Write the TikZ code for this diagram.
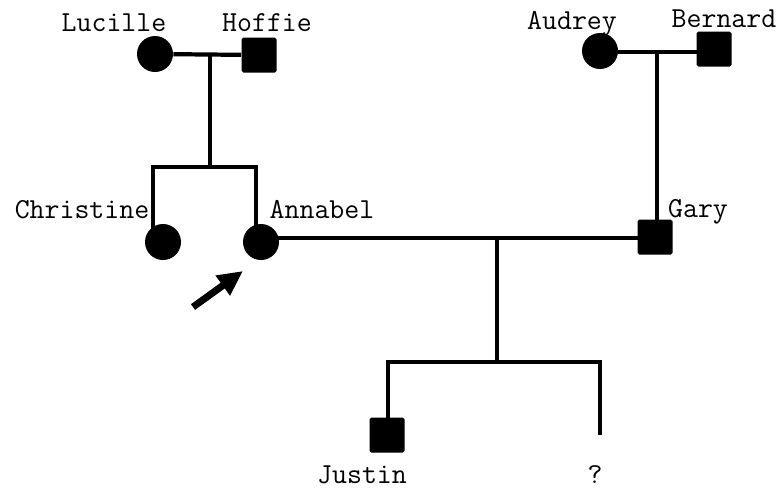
\documentclass[tikz,border=0pt]{standalone}
\usepackage{tikz}
\usetikzlibrary{arrows.meta, positioning, calc}

\begin{document}
\begin{tikzpicture}[
        female/.style={circle, fill=black, minimum size=0.72cm, inner sep=0pt},
        male/.style={rectangle, fill=black, rounded corners=1pt, minimum size=0.70cm, inner sep=0pt},
        person/.style={font=\fontsize{16.5}{18}\selectfont\ttfamily, inner sep=0pt},
        link/.style={line width=2.4pt, black},
        pointer/.style={-{Triangle[length=5mm, width=4.6mm]}, line width=4pt}
    ]
        \useasboundingbox (0,0) rectangle (15.62,-9.86);

        % Grandparents
        \node[female] (lucille) at (3.10,-1.08) {};
        \node[male] (hoffie) at (5.18,-1.10) {};
        \node[female] (audrey) at (12.00,-1.02) {};
        \node[male] (bernard) at (14.28,-0.98) {};
        \node[person] (lucilleName) at (2.28,-0.46) {Lucille};
        \node[person] (hoffieName) at (5.34,-0.46) {Hoffie};
        \node[person] (audreyName) at (11.44,-0.48) {Audrey};
        \node[person] (bernardName) at (14.48,-0.38) {Bernard};

        % Parents
        \node[female] (christine) at (3.26,-4.84) {};
        \node[female] (annabel) at (5.22,-4.84) {};
        \node[male] (gary) at (13.10,-4.74) {};
        \node[person] (christineName) at (1.64,-4.20) {Christine};
        \node[person] (annabelName) at (6.44,-4.20) {Annabel};
        \node[person] (garyName) at (13.96,-4.24) {Gary};

        % Children
        \node[male] (justin) at (7.74,-8.70) {};
        \coordinate (unknown) at (12.00,-8.70);
        \node[person] (justinName) at (7.24,-9.50) {Justin};
        \node[person] (unknownName) at (11.90,-9.50) {?};

        % Lucille x Hoffie
        \coordinate (m1) at (4.20,-1.08);
        \coordinate (sl1) at (3.06,-3.34);
        \coordinate (sr1) at (5.12,-3.34);
        \draw[link] (lucille) -- (hoffie);
        \draw[link] (m1) -- (m1 |- sl1);
        \draw[link] (sl1 |- christine) -- (sl1) -- (sr1) -- (sr1 |- annabel);

        % Audrey x Bernard
        \coordinate (m2) at (13.14,-1.04);
        \draw[link] (audrey.center |- m2) -- (bernard.center |- m2);
        \draw[link] (m2) -- (m2 |- gary);

        % Annabel x Gary
        \coordinate (m3) at (9.94,-4.76);
        \coordinate (sl3) at (7.76,-7.24);
        \coordinate (sr3) at (12.00,-7.24);
        \draw[link] (annabel.center |- m3) -- (gary.center |- m3);
        \draw[link] (m3) -- (m3 |- sl3);
        \draw[link] (sl3 |- justin) -- (sl3) -- (sr3) -- (unknown);

        % Proband
        \coordinate (tail) at (3.86,-6.14);
        \coordinate (tip) at (4.86,-5.42);
        \draw[pointer] (tail) -- (tip);
    \end{tikzpicture}
\end{document}
